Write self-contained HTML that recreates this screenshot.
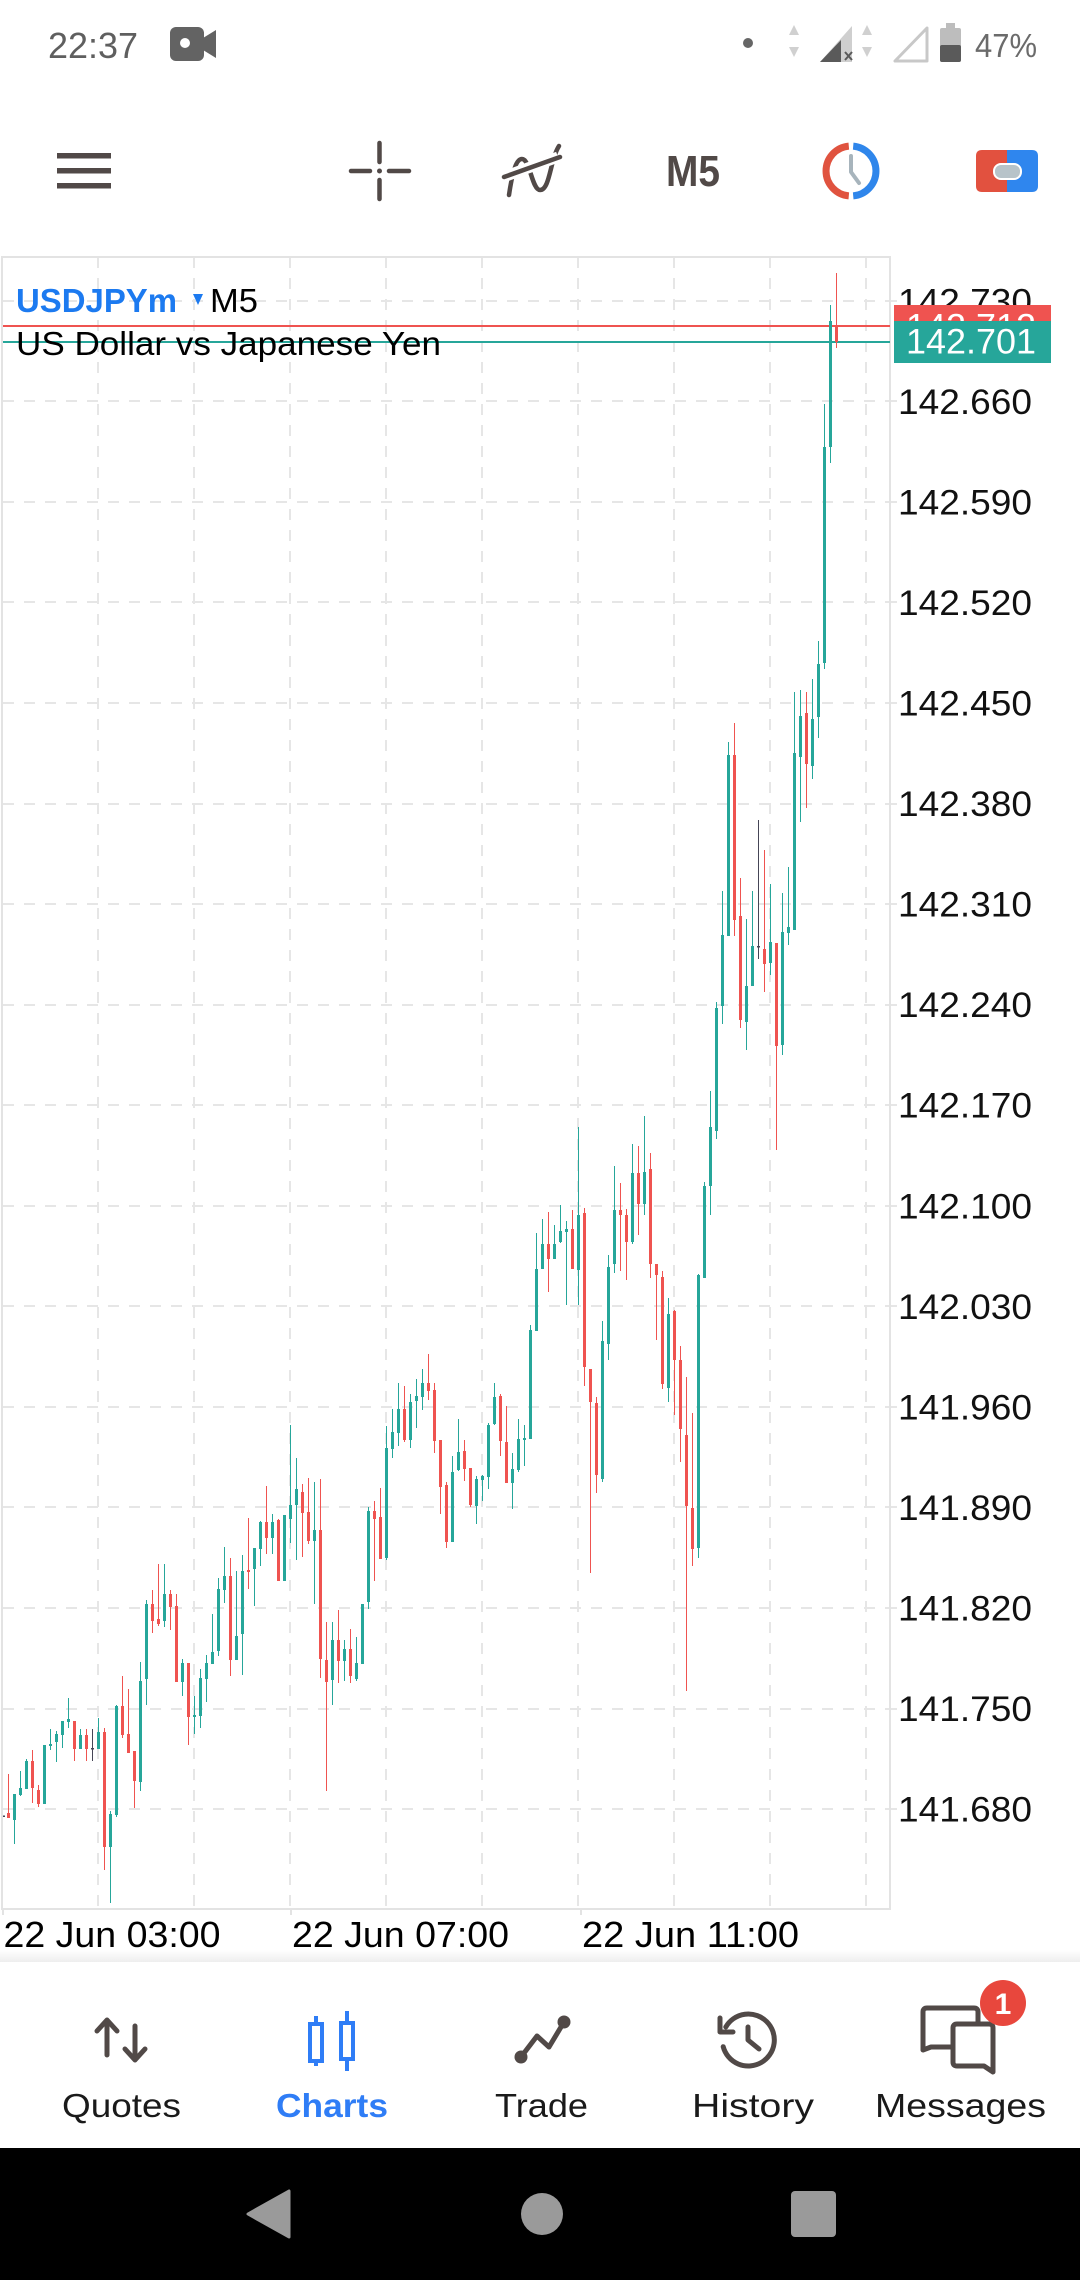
<!DOCTYPE html>
<html><head><meta charset="utf-8">
<style>html,body{margin:0;padding:0;background:#fff;width:1080px;height:2280px;overflow:hidden}svg{display:block}</style>
</head><body>
<svg width="1080" height="2280" viewBox="0 0 1080 2280" xmlns="http://www.w3.org/2000/svg" font-family="'Liberation Sans', Arial, sans-serif">
<rect width="1080" height="2280" fill="#fff"/>
<!-- status bar -->
<text x="48" y="58" font-size="36" fill="#5f5f5f" textLength="90" lengthAdjust="spacingAndGlyphs">22:37</text>
<rect x="170" y="27" width="34" height="34" rx="6" fill="#636363"/>
<path d="M203 38L216 30V58L203 50Z" fill="#636363"/>
<circle cx="185" cy="43" r="5" fill="#fff"/>
<circle cx="748" cy="43" r="5" fill="#666"/>
<path d="M794 25l-5 10h10zM794 57l-5-10h10z" fill="#d0d0d0"/>
<path d="M820 62H852V26Z" fill="#cfcfcf"/>
<path d="M820 62H841V40Z" fill="#5a5a5a"/>
<path d="M845 52l7 8M852 52l-7 8" stroke="#5a5a5a" stroke-width="2"/>
<path d="M867 25l-5 10h10zM867 57l-5-10h10z" fill="#d0d0d0"/>
<path d="M895 61H927V28Z" fill="none" stroke="#c8c8c8" stroke-width="3" stroke-linejoin="round"/>
<rect x="946" y="23" width="9" height="6" fill="#bdbdbd"/>
<rect x="940" y="28" width="21" height="34" rx="2" fill="#bdbdbd"/>
<rect x="940" y="45" width="21" height="17" rx="2" fill="#5a5a5a"/>
<text x="975" y="57" font-size="33" fill="#6b6b6b" textLength="62" lengthAdjust="spacingAndGlyphs">47%</text>
<!-- toolbar -->
<g fill="#514947"><rect x="57" y="153" width="54" height="5.5"/><rect x="57" y="168" width="54" height="5.5"/><rect x="57" y="183" width="54" height="5.5"/></g>
<g stroke="#514947" stroke-width="4.5" stroke-linecap="round" fill="none">
<path d="M379.5 143V162M379.5 180V199M351 171H370M389 171H409"/>
<path d="M509 195C513 168 517 159 522 159C530 159 532 190 540 190C550 190 550 160 559 146"/>
</g>
<path d="M506 176L558 157" stroke="#fff" stroke-width="11" stroke-linecap="butt" fill="none"/>
<path d="M504 177L560 157" stroke="#514947" stroke-width="4.5" stroke-linecap="round" fill="none"/>
<circle cx="379.5" cy="171" r="2.5" fill="#514947"/>
<text x="666" y="186" font-size="44" font-weight="bold" fill="#514947" textLength="54" lengthAdjust="spacingAndGlyphs">M5</text>
<path d="M848.8 146.1A25 25 0 0 0 848.8 195.9" stroke="#e0533f" stroke-width="7" fill="none"/>
<path d="M853.2 146.1A25 25 0 0 1 853.2 195.9" stroke="#2f86eb" stroke-width="7" fill="none"/>
<path d="M851 156V172L859 183" stroke="#a7b4bc" stroke-width="4" fill="none" stroke-linecap="round" stroke-linejoin="round"/>
<path d="M982 150h25v42h-25q-6 0-6-6v-30q0-6 6-6z" fill="#e2513f"/>
<path d="M1007 150h25q6 0 6 6v30q0 6-6 6h-25z" fill="#2f86ee"/>
<rect x="994" y="164" width="27" height="15" rx="7" fill="#b7c3c9" stroke="#fff" stroke-width="2"/>
<!-- chart grid -->
<g stroke="#e6e6e6" stroke-width="2" fill="none">
<path stroke-dasharray="11 10" d="M3 301H890M3 401H890M3 502H890M3 602H890M3 703H890M3 804H890M3 904H890M3 1005H890M3 1105H890M3 1206H890M3 1306H890M3 1407H890M3 1507H890M3 1608H890M3 1709H890M3 1809H890"/>
<path d="M890 301H897M890 401H897M890 502H897M890 602H897M890 703H897M890 804H897M890 904H897M890 1005H897M890 1105H897M890 1206H897M890 1306H897M890 1407H897M890 1507H897M890 1608H897M890 1709H897M890 1809H897"/>
<path stroke-dasharray="11 10" d="M98 257V1909M194 257V1909M290 257V1909M386 257V1909M482 257V1909M578 257V1909M674 257V1909M770 257V1909M866 257V1909"/>
<path stroke="#e3e3e3" d="M2 257H890V1909H2ZM3 1909V1915M291 1909V1915M581 1909V1915"/>
</g>
<!-- price lines -->
<path d="M3 326H890" stroke="#ef5350" stroke-width="2"/>
<path d="M3 342H890" stroke="#26a69a" stroke-width="2"/>
<!-- candles -->
<path stroke="#26a69a" stroke-width="1" fill="none" d="M14.5 1794V1844M20.5 1771V1796M26.5 1759V1789M44.5 1745V1804M50.5 1729V1750M56.5 1731V1762M62.5 1721V1748M68.5 1698V1728M80.5 1729V1749M98.5 1718V1749M110.5 1811V1903M116.5 1705V1817M140.5 1662V1791M146.5 1600V1705M164.5 1564V1627M182.5 1659V1696M194.5 1696V1734M200.5 1669V1728M206.5 1655V1702M212.5 1614V1664M218.5 1578V1656M224.5 1547V1603M236.5 1571V1660M242.5 1555V1675M254.5 1548V1606M260.5 1521V1566M272.5 1514V1554M284.5 1515V1581M290.5 1425V1543M296.5 1458V1560M314.5 1482V1604M332.5 1622V1705M344.5 1640V1681M356.5 1637V1681M362.5 1604V1664M368.5 1507V1609M386.5 1426V1560M392.5 1409V1458M398.5 1383V1446M410.5 1394V1448M416.5 1379V1428M422.5 1369V1410M452.5 1456V1542M458.5 1419V1471M476.5 1476V1524M482.5 1475V1501M488.5 1423V1489M494.5 1383V1425M512.5 1453V1509M518.5 1419V1472M524.5 1425V1466M530.5 1325V1439M536.5 1233V1331M542.5 1219V1269M554.5 1225V1259M560.5 1205V1243M566.5 1221V1305M578.5 1127V1305M602.5 1321V1482M608.5 1255V1360M614.5 1166V1273M632.5 1144V1244M644.5 1116V1215M668.5 1298V1402M698.5 1274V1558M704.5 1182V1278M710.5 1091V1215M716.5 1002V1139M722.5 891V1024M728.5 742V936M746.5 919V1050M752.5 891V986M770.5 884V975M782.5 893V1055M788.5 867V945M794.5 692V930M800.5 690V822M812.5 679V779M818.5 641V738M824.5 404V669M830.5 305V463"/>
<path fill="#26a69a" d="M13 1794h3V1820h-3zM19 1788h3V1795h-3zM25 1761h3V1789h-3zM43 1745h3V1804h-3zM49 1744h3V1746h-3zM55 1734h3V1742h-3zM61 1721h3V1735h-3zM67 1719h3V1722h-3zM79 1735h3V1749h-3zM97 1732h3V1749h-3zM109 1814h3V1847h-3zM115 1706h3V1815h-3zM139 1681h3V1782h-3zM145 1604h3V1679h-3zM163 1594h3V1621h-3zM181 1663h3V1682h-3zM193 1715h3V1717h-3zM199 1678h3V1716h-3zM205 1663h3V1679h-3zM211 1652h3V1664h-3zM217 1589h3V1651h-3zM223 1576h3V1590h-3zM235 1636h3V1660h-3zM241 1571h3V1634h-3zM253 1548h3V1569h-3zM259 1522h3V1549h-3zM271 1522h3V1538h-3zM283 1515h3V1581h-3zM289 1505h3V1519h-3zM295 1489h3V1505h-3zM313 1530h3V1541h-3zM331 1640h3V1680h-3zM343 1649h3V1661h-3zM355 1663h3V1679h-3zM361 1604h3V1664h-3zM367 1511h3V1602h-3zM385 1448h3V1558h-3zM391 1432h3V1449h-3zM397 1409h3V1433h-3zM409 1402h3V1440h-3zM415 1396h3V1401h-3zM421 1383h3V1397h-3zM451 1472h3V1542h-3zM457 1452h3V1470h-3zM475 1479h3V1506h-3zM481 1476h3V1480h-3zM487 1425h3V1477h-3zM493 1397h3V1424h-3zM511 1469h3V1483h-3zM517 1439h3V1470h-3zM523 1438h3V1440h-3zM529 1330h3V1439h-3zM535 1269h3V1331h-3zM541 1244h3V1269h-3zM553 1244h3V1259h-3zM559 1231h3V1242h-3zM565 1229h3V1232h-3zM577 1215h3V1270h-3zM601 1341h3V1479h-3zM607 1267h3V1344h-3zM613 1210h3V1264h-3zM631 1173h3V1242h-3zM643 1172h3V1204h-3zM667 1314h3V1388h-3zM697 1275h3V1548h-3zM703 1186h3V1278h-3zM709 1127h3V1186h-3zM715 1008h3V1131h-3zM721 935h3V1006h-3zM727 755h3V936h-3zM745 986h3V1022h-3zM751 946h3V986h-3zM769 942h3V963h-3zM781 932h3V1045h-3zM787 927h3V933h-3zM793 753h3V930h-3zM799 716h3V757h-3zM811 719h3V766h-3zM817 664h3V717h-3zM823 447h3V663h-3zM829 321h3V447h-3z"/>
<path stroke="#ef5350" stroke-width="1" fill="none" d="M8.5 1774V1818M32.5 1750V1803M38.5 1785V1807M74.5 1721V1761M86.5 1729V1761M104.5 1728V1870M122.5 1676V1738M128.5 1689V1753M134.5 1751V1808M152.5 1590V1633M158.5 1564V1626M170.5 1590V1630M176.5 1594V1682M188.5 1663V1745M230.5 1558V1676M248.5 1518V1589M266.5 1486V1554M278.5 1519V1581M302.5 1484V1557M308.5 1478V1544M320.5 1479V1678M326.5 1622V1791M338.5 1610V1683M350.5 1629V1683M374.5 1501V1581M380.5 1488V1559M404.5 1386V1442M428.5 1354V1400M434.5 1383V1453M440.5 1440V1514M446.5 1482V1548M464.5 1440V1481M470.5 1468V1507M500.5 1394V1456M506.5 1406V1483M548.5 1212V1292M572.5 1210V1269M584.5 1208V1386M590.5 1369V1573M596.5 1397V1493M620.5 1183V1271M626.5 1209V1280M638.5 1146V1235M650.5 1153V1278M656.5 1264V1340M662.5 1271V1389M674.5 1310V1415M680.5 1346V1462M686.5 1377V1691M692.5 1413V1566M734.5 723V936M740.5 878V1028M764.5 850V992M776.5 943V1150M806.5 692V808M836.5 273V348"/>
<path fill="#ef5350" d="M7 1813h3V1818h-3zM31 1761h3V1788h-3zM37 1790h3V1804h-3zM73 1721h3V1749h-3zM85 1735h3V1749h-3zM103 1732h3V1847h-3zM121 1706h3V1735h-3zM127 1734h3V1753h-3zM133 1751h3V1781h-3zM151 1604h3V1621h-3zM157 1619h3V1624h-3zM169 1594h3V1607h-3zM175 1606h3V1682h-3zM187 1663h3V1717h-3zM229 1576h3V1660h-3zM247 1570h3V1572h-3zM265 1522h3V1538h-3zM277 1520h3V1581h-3zM301 1492h3V1513h-3zM307 1512h3V1541h-3zM319 1530h3V1659h-3zM325 1660h3V1682h-3zM337 1640h3V1661h-3zM349 1649h3V1676h-3zM373 1511h3V1519h-3zM379 1517h3V1559h-3zM403 1409h3V1440h-3zM427 1383h3V1391h-3zM433 1390h3V1441h-3zM439 1440h3V1487h-3zM445 1485h3V1542h-3zM463 1451h3V1469h-3zM469 1468h3V1505h-3zM499 1396h3V1441h-3zM505 1442h3V1483h-3zM547 1244h3V1259h-3zM571 1229h3V1269h-3zM583 1213h3V1367h-3zM589 1369h3V1402h-3zM595 1403h3V1475h-3zM619 1210h3V1215h-3zM625 1215h3V1242h-3zM637 1173h3V1204h-3zM649 1169h3V1264h-3zM655 1264h3V1275h-3zM661 1277h3V1384h-3zM673 1311h3V1360h-3zM679 1360h3V1429h-3zM685 1435h3V1506h-3zM691 1508h3V1549h-3zM733 755h3V920h-3zM739 916h3V1020h-3zM763 949h3V964h-3zM775 943h3V1046h-3zM805 713h3V764h-3zM835 326h3V342h-3z"/>
<path stroke="#454556" stroke-width="1" d="M92.5 1729V1761M758.5 820V959"/>
<path fill="#454556" d="M91 1748h3v1.5h-3zM757 946h3v1.5h-3zM3 1815.5h2v1.5h-2z"/>
<!-- chart header -->
<text x="16" y="312" font-size="33" font-weight="bold" fill="#1c7af0" textLength="161" lengthAdjust="spacingAndGlyphs">USDJPYm</text>
<path d="M193 294h10l-5 11z" fill="#1c7af0"/>
<text x="210" y="312" font-size="33" fill="#000" textLength="48" lengthAdjust="spacingAndGlyphs">M5</text>
<text x="16" y="355" font-size="33" fill="#000" textLength="425" lengthAdjust="spacingAndGlyphs">US Dollar vs Japanese Yen</text>
<!-- price axis -->
<g font-size="35" fill="#111">
<text x="898" y="313.3" textLength="134" lengthAdjust="spacingAndGlyphs">142.730</text>
<text x="898" y="413.9" textLength="134" lengthAdjust="spacingAndGlyphs">142.660</text>
<text x="898" y="514.4" textLength="134" lengthAdjust="spacingAndGlyphs">142.590</text>
<text x="898" y="615" textLength="134" lengthAdjust="spacingAndGlyphs">142.520</text>
<text x="898" y="715.5" textLength="134" lengthAdjust="spacingAndGlyphs">142.450</text>
<text x="898" y="816.1" textLength="134" lengthAdjust="spacingAndGlyphs">142.380</text>
<text x="898" y="916.6" textLength="134" lengthAdjust="spacingAndGlyphs">142.310</text>
<text x="898" y="1017.2" textLength="134" lengthAdjust="spacingAndGlyphs">142.240</text>
<text x="898" y="1117.7" textLength="134" lengthAdjust="spacingAndGlyphs">142.170</text>
<text x="898" y="1218.3" textLength="134" lengthAdjust="spacingAndGlyphs">142.100</text>
<text x="898" y="1318.8" textLength="134" lengthAdjust="spacingAndGlyphs">142.030</text>
<text x="898" y="1419.4" textLength="134" lengthAdjust="spacingAndGlyphs">141.960</text>
<text x="898" y="1519.9" textLength="134" lengthAdjust="spacingAndGlyphs">141.890</text>
<text x="898" y="1620.5" textLength="134" lengthAdjust="spacingAndGlyphs">141.820</text>
<text x="898" y="1721" textLength="134" lengthAdjust="spacingAndGlyphs">141.750</text>
<text x="898" y="1821.6" textLength="134" lengthAdjust="spacingAndGlyphs">141.680</text>
</g>
<rect x="894" y="305" width="157" height="42" fill="#ef5350"/>
<text x="906" y="338.5" font-size="35" fill="#fff" textLength="130" lengthAdjust="spacingAndGlyphs">142.712</text>
<rect x="894" y="321" width="157" height="42" fill="#26a69a"/>
<text x="906" y="353.5" font-size="35" fill="#fff" textLength="130" lengthAdjust="spacingAndGlyphs">142.701</text>
<!-- time axis -->
<g font-size="36" fill="#000">
<text x="3.5" y="1947" textLength="217" lengthAdjust="spacingAndGlyphs">22 Jun 03:00</text>
<text x="292" y="1947" textLength="217" lengthAdjust="spacingAndGlyphs">22 Jun 07:00</text>
<text x="582" y="1947" textLength="217" lengthAdjust="spacingAndGlyphs">22 Jun 11:00</text>
</g>
<!-- bottom nav -->
<defs><linearGradient id="sh" x1="0" y1="0" x2="0" y2="1"><stop offset="0" stop-color="#fff"/><stop offset="1" stop-color="#eeeeee"/></linearGradient></defs>
<rect x="0" y="1950" width="1080" height="12" fill="url(#sh)"/>
<g stroke="#514947" stroke-width="5" fill="none" stroke-linecap="round" stroke-linejoin="round">
<path d="M107 2055V2021M97 2031l10-11 10 11"/>
<path d="M135 2026V2059M125 2049l10 11 10-11"/>
<path d="M521 2057L537 2036L549 2047L564 2022"/>
<path d="M725.8 2027A26 26 0 1 1 723.2 2046.7"/>
<path d="M720 2018V2032H733"/>
<path d="M748 2027V2040L759 2049"/>
<path d="M923 2050V2012q0-4 4-4h47q4 0 4 4v12M923 2050l8-3h24"/>
</g>
<path d="M957 2024h32q4 0 4 4v44l-9-6h-27q-4 0-4-4v-34q0-4 4-4z" fill="#fff" stroke="#514947" stroke-width="5" stroke-linejoin="round"/>
<circle cx="521" cy="2057" r="6.5" fill="#514947"/>
<circle cx="564" cy="2022" r="6.5" fill="#514947"/>
<circle cx="1003" cy="2003" r="23" fill="#e8473d"/>
<text x="1003" y="2014" font-size="30" font-weight="bold" fill="#fff" text-anchor="middle">1</text>
<g stroke="#2f7df6" stroke-width="4" fill="#fff">
<path d="M316 2016V2066M347 2011V2071" fill="none"/>
<rect x="310" y="2024" width="12" height="37"/>
<rect x="341" y="2023" width="12" height="36"/>
</g>
<g font-size="33" fill="#1a1a1a">
<text x="62" y="2117" textLength="119" lengthAdjust="spacingAndGlyphs">Quotes</text>
<text x="276" y="2117" textLength="112" lengthAdjust="spacingAndGlyphs" font-weight="bold" fill="#2f7df6">Charts</text>
<text x="495" y="2117" textLength="93" lengthAdjust="spacingAndGlyphs">Trade</text>
<text x="692" y="2117" textLength="122" lengthAdjust="spacingAndGlyphs">History</text>
<text x="875" y="2117" textLength="171" lengthAdjust="spacingAndGlyphs">Messages</text>
</g>
<!-- system nav -->
<rect x="0" y="2148" width="1080" height="132" fill="#000"/>
<path d="M289 2191V2237L248 2214Z" fill="#9a9a9a" stroke="#9a9a9a" stroke-width="3" stroke-linejoin="round"/>
<circle cx="542" cy="2214" r="21" fill="#9a9a9a"/>
<rect x="791" y="2191" width="45" height="46" rx="4" fill="#9a9a9a"/>
</svg>
</body></html>
